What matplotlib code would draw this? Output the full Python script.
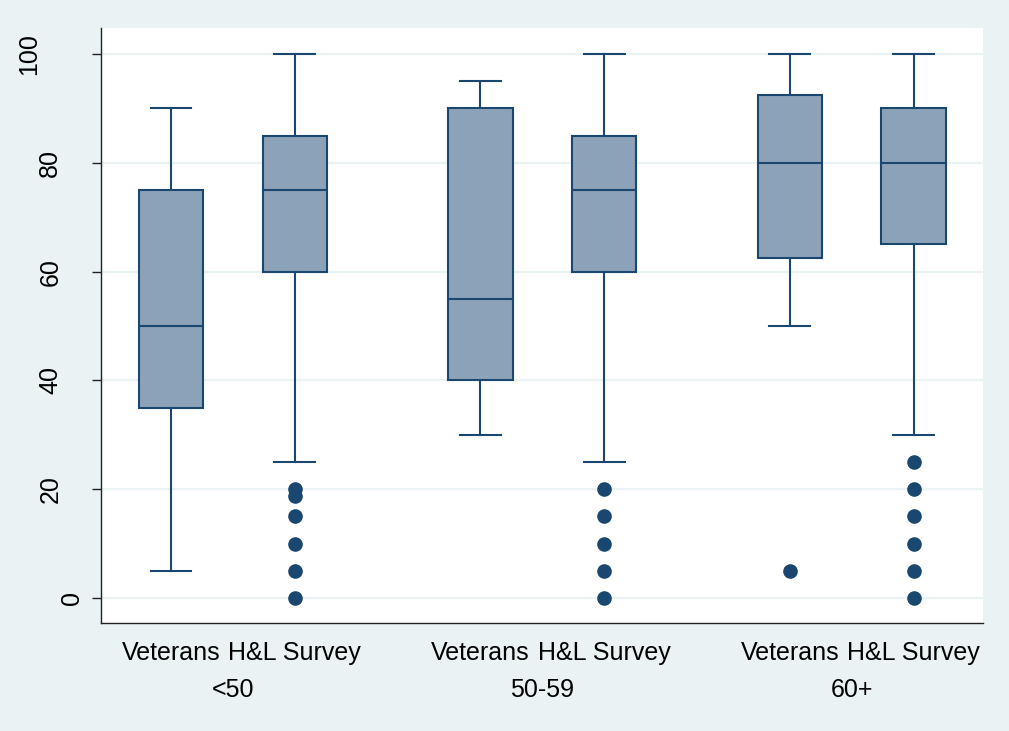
import numpy as np
import matplotlib
matplotlib.use("Agg")
from matplotlib import pyplot as plt

plt.rcParams['font.family'] = ['Liberation Sans', 'DejaVu Sans']

groups = ['<50', '50-59', '60+']
series = ['Veterans', 'H&L Survey']

# five-number summaries per box: whisker low, q1, median, q3, whisker high
whislo = [5, 25, 30, 25, 50, 30]
q1 = [35, 60, 40, 60, 62.5, 65]
med = [50, 75, 55, 75, 80, 80]
q3 = [75, 85, 90, 85, 92.5, 90]
whishi = [90, 100, 95, 100, 100, 100]
fliers = [
    [],
    [20, 18.7, 15, 10, 5, 0],
    [],
    [20, 15, 10, 5, 0],
    [5],
    [25, 20, 15, 10, 5, 0],
]

yticks = [0, 20, 40, 60, 80, 100]

navy = '#1a476f'
fill = '#8ca2b8'
bg = '#eaf2f3'

positions = []
for g in range(len(groups)):
    for s in range(len(series)):
        positions.append(1 + g * 2.5 + s)

stats = []
for i in range(len(positions)):
    stats.append(dict(whislo=whislo[i], q1=q1[i], med=med[i], q3=q3[i],
                      whishi=whishi[i], fliers=fliers[i]))

fig = plt.figure(figsize=(10.09, 7.31), dpi=100, facecolor=bg)
ax = fig.add_axes([101 / 1009, 1 - 623 / 731, 882 / 1009, 595 / 731])
ax.set_facecolor('white')

for v in yticks:
    ax.axhline(v, color=bg, lw=1.6, zorder=0)

ax.bxp(stats, positions=positions, widths=0.52, capwidths=0.33,
       patch_artist=True, showfliers=True,
       boxprops=dict(facecolor=fill, edgecolor=navy, linewidth=1.5),
       medianprops=dict(color=navy, linewidth=1.5),
       whiskerprops=dict(color=navy, linewidth=1.5),
       capprops=dict(color=navy, linewidth=1.5),
       flierprops=dict(marker='o', markerfacecolor=navy, markeredgecolor=navy,
                       markersize=9.5))

ax.set_xlim(0.435, 7.56)
ax.set_ylim(-4.6, 104.8)

for side in ['top', 'right']:
    ax.spines[side].set_visible(False)
for side in ['left', 'bottom']:
    ax.spines[side].set_color('#222222')
    ax.spines[side].set_linewidth(1.0)

# x labels: series under each box, group names below
ax.set_xticks(positions)
ax.set_xticklabels(series * len(groups), fontsize=18)
ax.tick_params(axis='x', length=0, pad=13)
for g, name in enumerate(groups):
    cx = (positions[2 * g] + positions[2 * g + 1]) / 2
    ax.annotate(name, xy=(cx, 0), xycoords=('data', 'axes fraction'),
                xytext=(0, -48), textcoords='offset points',
                ha='center', va='center', fontsize=18)

# y labels: vertical, Stata-style placement
ax.set_yticks(yticks)
ax.set_yticklabels([])
ax.tick_params(axis='y', length=6.5, width=1, color='#222222')
for v in yticks:
    lab = str(v)
    off = -21 - 15.5 * (len(lab) - 1)
    ax.annotate(lab, xy=(0, v), xycoords=('axes fraction', 'data'),
                xytext=(off, 0), textcoords='offset points',
                ha='center', va='center', rotation=90, fontsize=18)

fig.savefig('out.png', dpi=100, facecolor=bg)
